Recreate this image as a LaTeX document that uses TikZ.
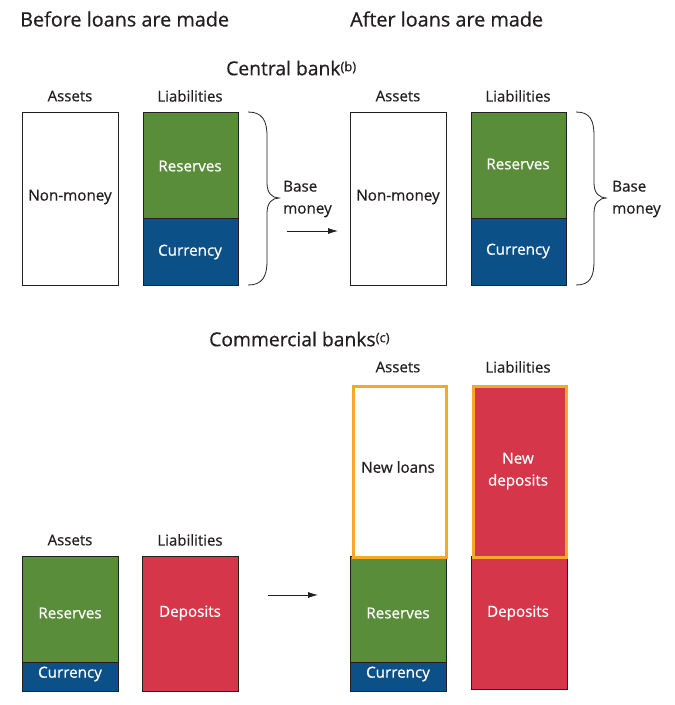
\documentclass[tikz,border=0pt]{standalone}
\usepackage{fontspec}
\setmainfont{Open Sans}[FakeBold=0.6]
\usetikzlibrary{arrows.meta}
\definecolor{bgreen}{HTML}{5A8D3A}
\definecolor{bblue}{HTML}{0B5087}
\definecolor{bred}{HTML}{D6364A}
\definecolor{borange}{HTML}{F5A82A}
\definecolor{txt}{HTML}{231F20}
\newcommand{\supnote}[1]{\raisebox{4pt}{\fontsize{13}{14}\selectfont #1}}
\begin{document}
\begin{tikzpicture}[x=1pt,y=-1pt,
  box/.style={draw=txt, line width=0.8pt, inner sep=0pt, anchor=north west},
  newbox/.style={draw=borange, line width=3pt, inner sep=0pt, anchor=north west},
  title/.style={font=\fontsize{19.8}{24}\selectfont, text=txt, anchor=west, inner sep=0pt},
  head/.style={font=\fontsize{19.3}{22}\selectfont, text=txt, inner sep=0pt, anchor=west},
  col/.style={font=\fontsize{15}{18}\selectfont, text=txt, inner sep=0pt},
  intxt/.style={font=\fontsize{15.2}{22}\selectfont, text=txt, inner sep=0pt, align=center},
  wtxt/.style={font=\fontsize{15.2}{22}\selectfont, text=white, inner sep=0pt, align=center},
  bm/.style={font=\fontsize{15.2}{22}\selectfont, text=txt, inner sep=0pt, align=left, anchor=west},
  brc/.style={draw=txt, line width=0.8pt},
  arr/.style={draw=txt, line width=0.8pt, -{Latex[length=10pt,width=6pt]}}
]
\useasboundingbox (0,0) rectangle (675,705);
% titles
\node[title] (t1) at (20,19) {Before loans are made};
\node[title] (t2) at (350,19) {After loans are made};
\node[head] (cb) at (226,68) {Central bank\supnote{(b)}};
\node[head] (cm) at (209,339) {Commercial banks\supnote{(c)}};
% column headers
\node[col] (h1) at (70,96) {Assets};
\node[col] (h2) at (190,96) {Liabilities};
\node[col] (h3) at (398,96) {Assets};
\node[col] (h4) at (518,96) {Liabilities};
\node[col] (h5) at (398,367) {Assets};
\node[col] (h6) at (518,367) {Liabilities};
\node[col] (h7) at (70,540) {Assets};
\node[col] (h8) at (190,540) {Liabilities};
% central bank before
\node[box, fill=white, minimum width=96pt, minimum height=173pt] (cbA1) at (22,112) {};
\node[box, fill=bgreen, minimum width=95pt, minimum height=106pt] (cbR1) at (143,112) {};
\node[box, fill=bblue, minimum width=95pt, minimum height=67pt] (cbC1) at (143,218) {};
\node[intxt] (tNM1) at (70,197) {Non-money};
\node[wtxt] (tR1) at (190,166) {Reserves};
\node[wtxt] (tC1) at (190,252) {Currency};
% central bank after
\node[box, fill=white, minimum width=96pt, minimum height=173pt] (cbA2) at (350,112) {};
\node[box, fill=bgreen, minimum width=95pt, minimum height=106pt] (cbR2) at (471,112) {};
\node[box, fill=bblue, minimum width=95pt, minimum height=67pt] (cbC2) at (471,218) {};
\node[intxt] (tNM2) at (398,197) {Non-money};
\node[wtxt] (tR2) at (518,164) {Reserves};
\node[wtxt] (tC2) at (518,251) {Currency};
% braces
\draw[brc] (248,112) .. controls (262,112) and (267,120) .. (267,136) -- (267,183)
  .. controls (267,193) and (272,198) .. (279,198)
  .. controls (272,198) and (267,203) .. (267,213) -- (267,261)
  .. controls (267,277) and (262,285) .. (248,285);
\draw[brc] (576,112) .. controls (590,112) and (594,120) .. (594,136) -- (594,183)
  .. controls (594,193) and (599,198) .. (607,198)
  .. controls (599,198) and (594,203) .. (594,213) -- (594,261)
  .. controls (594,277) and (590,285) .. (576,285);
\node[bm] (bm1) at (283,199) {Base\\money};
\node[bm] (bm2) at (612,199) {Base\\money};
% arrows
\coordinate (a1s) at (287,231);
\coordinate (a1e) at (338,231);
\draw[arr] (a1s) -- (a1e);
\coordinate (a2s) at (268,595);
\coordinate (a2e) at (318,595);
\draw[arr] (a2s) -- (a2e);
% commercial before
\node[box, fill=bgreen, minimum width=96pt, minimum height=106pt] (bR1) at (22,556) {};
\node[box, fill=bblue, minimum width=96pt, minimum height=29pt] (bC1) at (22,662) {};
\node[box, fill=bred, minimum width=96pt, minimum height=135pt] (bD1) at (142,556) {};
\node[wtxt] (tbR1) at (70,613) {Reserves};
\node[wtxt] (tbC1) at (70,674) {Currency};
\node[wtxt] (tbD1) at (190,613) {Deposits};
% commercial after
\node[box, fill=bgreen, minimum width=96pt, minimum height=106pt] (bR2) at (350,556) {};
\node[box, fill=bblue, minimum width=96pt, minimum height=29pt] (bC2) at (350,662) {};
\node[box, fill=bred, minimum width=96pt, minimum height=133pt] (bD2) at (471,556) {};
\node[wtxt] (tbR2) at (398,613) {Reserves};
\node[wtxt] (tbC2) at (398,674) {Currency};
\node[wtxt] (tbD2) at (518,613) {Deposits};
\node[newbox, fill=white, minimum width=93pt, minimum height=171pt] (nL) at (351.5,384.5) {};
\node[newbox, fill=bred, minimum width=93pt, minimum height=171pt] (nD) at (472,384.5) {};
\node[intxt] (tnL) at (398,467) {New loans};
\node[wtxt] (tnD) at (518,471) {New\\deposits};
\end{tikzpicture}
\end{document}
